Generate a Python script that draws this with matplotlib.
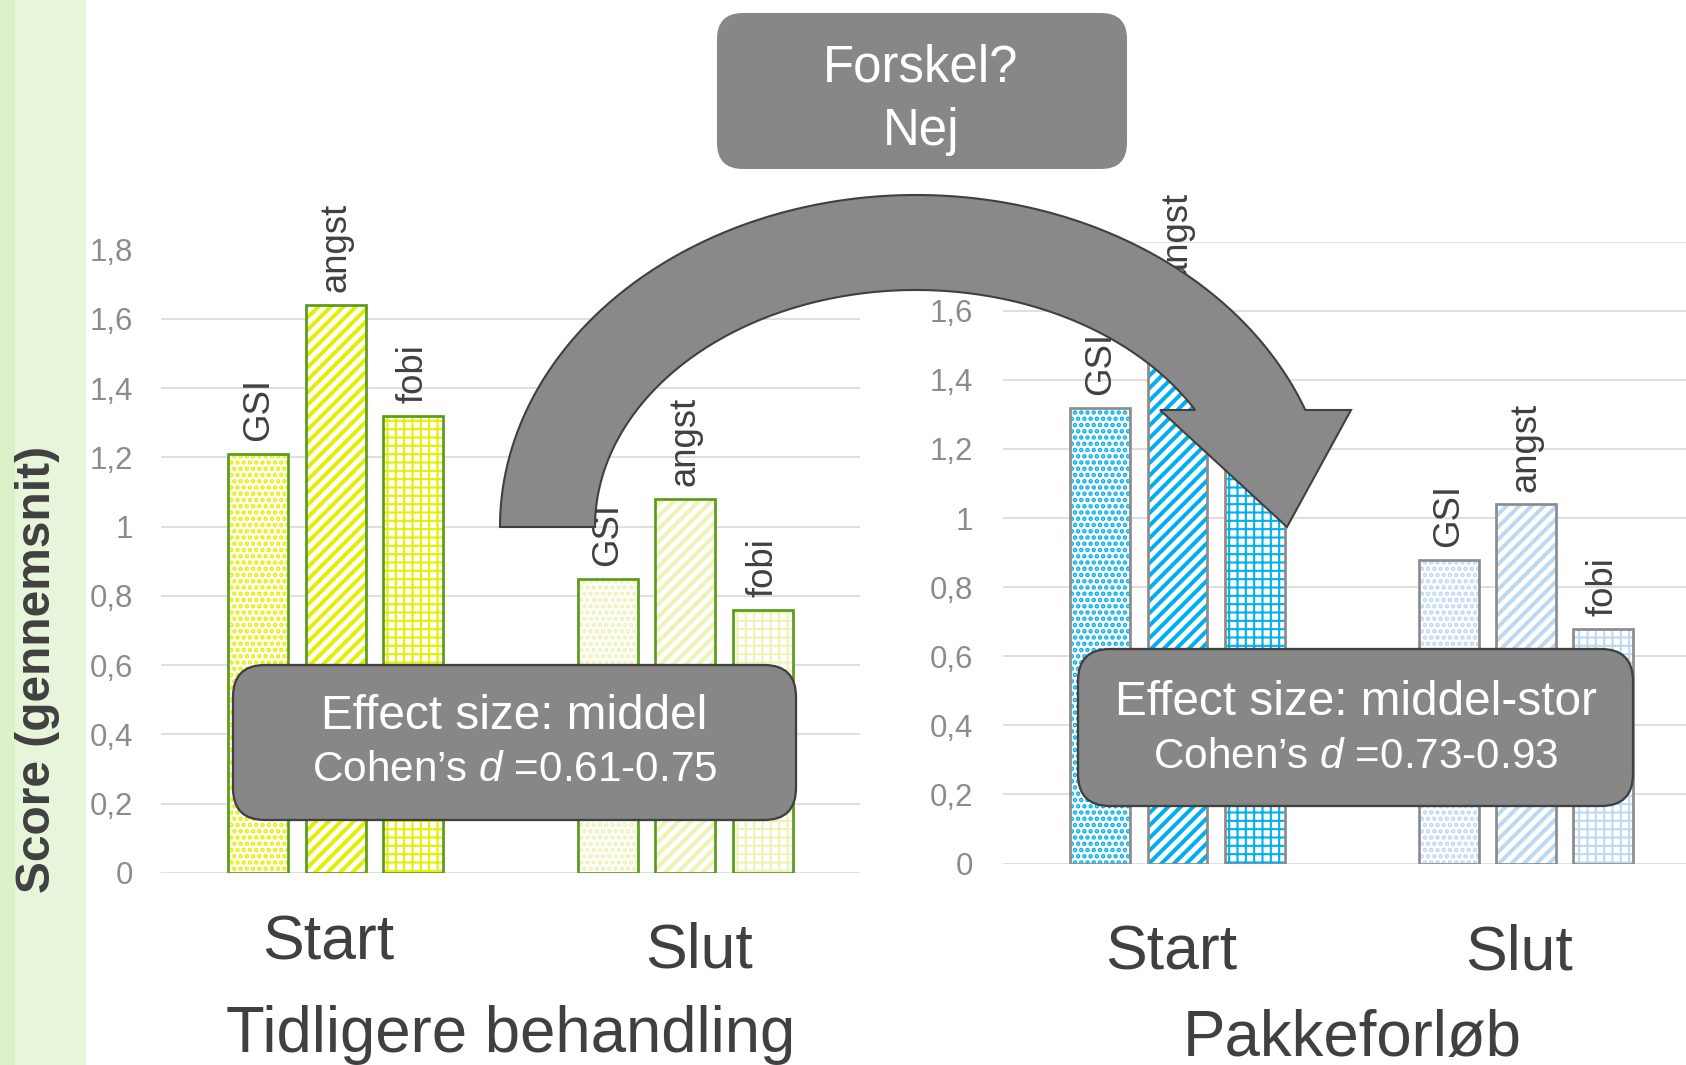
import numpy as np
import matplotlib
matplotlib.use("Agg")
import matplotlib.pyplot as plt
from matplotlib.patches import FancyBboxPatch, Polygon, Rectangle

plt.rcParams['font.family'] = ['Liberation Sans', 'DejaVu Sans']
plt.rcParams['mathtext.fontset'] = 'custom'
plt.rcParams['mathtext.rm'] = 'Liberation Sans'
plt.rcParams['mathtext.it'] = 'Liberation Sans:italic'

# ---------------- data ----------------
measures = ["GSI", "angst", "fobi"]
phases = ["Start", "Slut"]
tidligere_start = [1.21, 1.64, 1.32]
tidligere_slut = [0.85, 1.08, 0.76]
pakke_start = [1.32, 1.65, 1.22]
pakke_slut = [0.88, 1.04, 0.68]
y_ticks = [0, 0.2, 0.4, 0.6, 0.8, 1.0, 1.2, 1.4, 1.6, 1.8]
y_tick_labels = ["0", "0,2", "0,4", "0,6", "0,8", "1", "1,2", "1,4", "1,6", "1,8"]
panel_titles = ["Tidligere behandling", "Pakkeforløb"]
y_label = "Score (gennemsnit)"
question = ["Forskel?", "Nej"]
effect_left = ["Effect size: middel", "Cohen’s $d$ =0.61-0.75"]
effect_right = ["Effect size: middel-stor", "Cohen’s $d$ =0.73-0.93"]

# ---------------- layout ----------------
DPI = 150
W, H = 1686, 1065
fig = plt.figure(figsize=(W / DPI, H / DPI), dpi=DPI)
fig.patch.set_facecolor('white')

BAR_W = 0.172
OFFSET = 0.2215
HATCHES = ['....', '////', '+++']
HATCH_LW = [1.5, 1.9, 1.0]


def draw_panel(ax, start_vals, slut_vals, start_col, slut_col, edge_col, pad):
    for gi, (vals, col) in enumerate([(start_vals, start_col), (slut_vals, slut_col)]):
        for mi, v in enumerate(vals):
            x = gi + (mi - 1) * OFFSET
            plt.rcParams['hatch.linewidth'] = HATCH_LW[mi]
            bars = ax.bar(x, v, width=BAR_W, color='white', edgecolor=col,
                          linewidth=0, hatch=HATCHES[mi], zorder=2)
            for p in bars:
                if hasattr(p, 'set_hatch_linewidth'):
                    p.set_hatch_linewidth(HATCH_LW[mi])
            ax.bar(x, v, width=BAR_W, fill=False, edgecolor=edge_col,
                   linewidth=1.3, zorder=3)
            ax.annotate(measures[mi], (x, v), xytext=(0, 6),
                        textcoords='offset points', rotation=90,
                        ha='center', va='bottom', fontsize=17.5,
                        color='#404040', zorder=4)
    ax.set_xlim(-0.5, 1.5)
    ax.set_ylim(0, 1.8)
    ax.set_yticks(y_ticks)
    ax.set_yticklabels(y_tick_labels)
    ax.set_xticks([])
    ax.tick_params(axis='y', length=0, pad=pad, labelsize=15, labelcolor='#8c8c8c')
    for s in ax.spines.values():
        s.set_visible(False)
    ax.yaxis.grid(True, color='#d9d9d9', linewidth=0.8)
    ax.set_axisbelow(True)
    ax.set_facecolor('none')


# left panel
axL = fig.add_axes([161 / W, 1 - 873 / H, 699 / W, (873 - 249.5) / H])
draw_panel(axL, tidligere_start, tidligere_slut, '#e6ee00', '#eef2b4', '#5b9b1b', 13.4)
# right panel
axR = fig.add_axes([1003.3 / W, 1 - 863.5 / H, 696.8 / W, (863.5 - 241.7) / H])
draw_panel(axR, pakke_start, pakke_slut, '#00aff0', '#bdd9f2', '#8c8c8c', 14.4)

# phase labels (slight horizontal nudges as in the original slide)
for ax, fr, dx in [(axL, [-0.1395, -0.152], [-0.021, 0.04]),
                   (axR, [-0.17, -0.17], [-0.019, -0.021])]:
    for gi, ph in enumerate(phases):
        ax.text(gi + dx[gi], fr[gi], ph, transform=ax.get_xaxis_transform(),
                ha='center', va='baseline', fontsize=30, color='#404040')

axL.text(0.5, -(1052 - 873) / 623.5, panel_titles[0], transform=axL.transAxes,
         ha='center', va='baseline', fontsize=30.5, color='#404040')
axR.text(0.5, -(1056 - 863.5) / 621.8, panel_titles[1], transform=axR.transAxes,
         ha='center', va='baseline', fontsize=30.5, color='#404040')

# ---------------- overlay (pixel coordinates) ----------------
ov = fig.add_axes([0, 0, 1, 1], zorder=10)
ov.set_xlim(0, W)
ov.set_ylim(H, 0)
ov.axis('off')
ov.set_facecolor('none')

# green strip
ov.add_patch(Rectangle((0, 0), 15, H, facecolor='#daf1c9', edgecolor='none', zorder=0))
ov.add_patch(Rectangle((15, 0), 71, H, facecolor='#e7f5db', edgecolor='none', zorder=0))
ov.text(38, 669, y_label, rotation=90, ha='center', va='center',
        fontsize=23, fontweight='bold', color='#404040')

# curved arrow
cx, cy = 916, 527
ao, bo = 416, 332
ai, bi = 321, 237
base_y = 410
t_o_end = np.arcsin((cy - base_y) / bo)
t_i_end = np.arcsin((cy - base_y) / bi)
t_o = np.linspace(np.pi, t_o_end, 300)
t_i = np.linspace(t_i_end, np.pi, 300)
outer = np.c_[cx + ao * np.cos(t_o), cy - bo * np.sin(t_o)]
inner = np.c_[cx + ai * np.cos(t_i), cy - bi * np.sin(t_i)]
head = np.array([[1351, base_y], [1287, 527], [1160, base_y]])
pts = np.vstack([outer, head, inner])
ov.add_patch(Polygon(pts, closed=True, facecolor='#898989', edgecolor='#404040',
                     linewidth=1.0, joinstyle='miter', zorder=2))

# top box
ov.add_patch(FancyBboxPatch((717, 13), 410, 156,
                            boxstyle='round,pad=0,rounding_size=26',
                            facecolor='#878787', edgecolor='none', zorder=3))
ov.text(921, 82, question[0], ha='center', va='baseline', fontsize=24.5, color='white', zorder=4)
ov.text(921, 145, question[1], ha='center', va='baseline', fontsize=24.5, color='white', zorder=4)

# effect boxes
for (x0, y0, x1, y1), lines, bl in [((233, 665, 796, 820), effect_left, (729, 781)),
                                     ((1078, 649, 1633, 806), effect_right, (715, 768))]:
    ov.add_patch(FancyBboxPatch((x0, y0), x1 - x0, y1 - y0,
                                boxstyle='round,pad=0,rounding_size=32',
                                facecolor='#878787', edgecolor='#404040',
                                linewidth=1.1, zorder=3))
    xc = (x0 + x1) / 2
    ov.text(xc, bl[0], lines[0], ha='center', va='baseline', fontsize=22.9, color='white', zorder=4)
    ov.text(xc, bl[1], lines[1], ha='center', va='baseline', fontsize=20.3, color='white', zorder=4)

fig.savefig('out.png', dpi=DPI)
